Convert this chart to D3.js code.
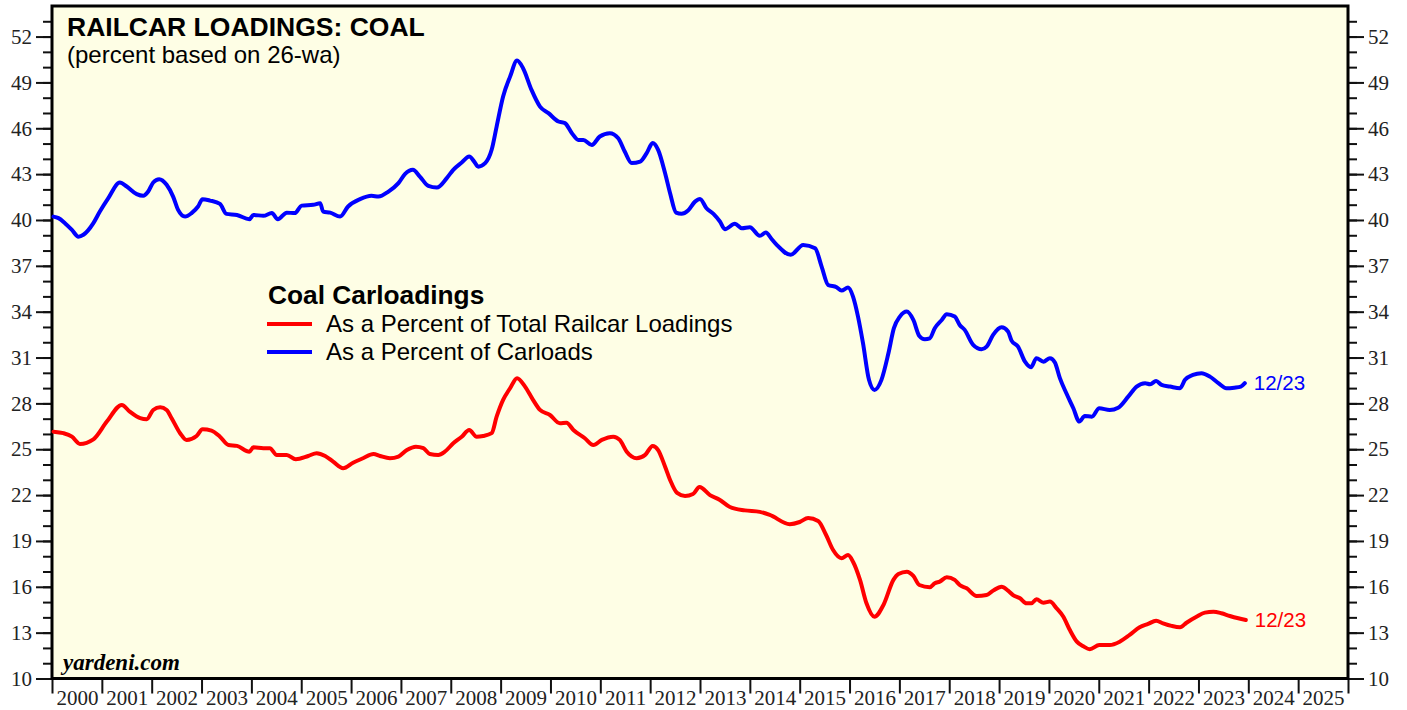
<!DOCTYPE html>
<html>
<head>
<meta charset="utf-8">
<script src="https://cdn.jsdelivr.net/npm/d3@7"></script>
<style>
  html, body { margin: 0; padding: 0; background: #fff; }
  svg { display: block; }
  .tick text { font-family: "Liberation Serif", "Times New Roman", serif; font-size: 21px; fill: #222; }
  .tick line { stroke: #111; stroke-width: 2px; }
</style>
</head>
<body>
<svg id="chart" width="1407" height="710"></svg>
<script>
// coal carloadings as % of all carloads (blue)
const carloadYears = [2000.03, 2000.13, 2000.26, 2000.40, 2000.53, 2000.63, 2000.83, 2000.96, 2001.13, 2001.36,
  2001.50, 2001.70, 2001.83, 2001.93, 2002.03, 2002.15, 2002.30, 2002.43, 2002.53, 2002.67,
  2002.80, 2002.93, 2003.02, 2003.17, 2003.37, 2003.50, 2003.71, 2003.96, 2004.04, 2004.24,
  2004.41, 2004.53, 2004.71, 2004.87, 2005.01, 2005.24, 2005.38, 2005.44, 2005.58, 2005.78,
  2005.94, 2006.18, 2006.41, 2006.55, 2006.75, 2006.95, 2007.08, 2007.24, 2007.38, 2007.55,
  2007.72, 2007.92, 2008.05, 2008.22, 2008.37, 2008.47, 2008.55, 2008.69, 2008.82, 2008.92,
  2009.05, 2009.19, 2009.33, 2009.45, 2009.62, 2009.79, 2009.96, 2010.16, 2010.29, 2010.43,
  2010.56, 2010.66, 2010.83, 2010.99, 2011.19, 2011.36, 2011.49, 2011.63, 2011.80, 2011.93,
  2012.05, 2012.16, 2012.30, 2012.40, 2012.52, 2012.63, 2012.76, 2012.90, 2013.00, 2013.13,
  2013.27, 2013.40, 2013.50, 2013.70, 2013.84, 2014.00, 2014.20, 2014.32, 2014.44, 2014.54,
  2014.82, 2015.07, 2015.31, 2015.44, 2015.57, 2015.74, 2015.84, 2015.97, 2016.07, 2016.17,
  2016.27, 2016.39, 2016.50, 2016.64, 2016.78, 2016.89, 2017.01, 2017.15, 2017.28, 2017.40,
  2017.51, 2017.61, 2017.71, 2017.85, 2017.95, 2018.11, 2018.21, 2018.31, 2018.48, 2018.65,
  2018.75, 2018.88, 2019.05, 2019.18, 2019.25, 2019.38, 2019.52, 2019.64, 2019.75, 2019.89,
  2020.02, 2020.12, 2020.22, 2020.35, 2020.49, 2020.61, 2020.72, 2020.86, 2021.01, 2021.22,
  2021.39, 2021.59, 2021.76, 2021.93, 2022.03, 2022.15, 2022.26, 2022.43, 2022.63, 2022.73,
  2022.89, 2023.06, 2023.23, 2023.40, 2023.56, 2023.72, 2023.85, 2023.93];
const carloadPct = [40.22, 40.12, 39.79, 39.35, 38.91, 39.03, 39.79, 40.55, 41.43, 42.45,
  42.19, 41.69, 41.58, 41.86, 42.45, 42.67, 42.30, 41.53, 40.66, 40.22,
  40.45, 40.88, 41.36, 41.27, 41.05, 40.40, 40.33, 40.05, 40.33, 40.27,
  40.45, 40.05, 40.48, 40.45, 40.94, 40.99, 41.10, 40.55, 40.48, 40.22,
  40.88, 41.36, 41.58, 41.53, 41.86, 42.41, 43.00, 43.28, 42.84, 42.23,
  42.12, 42.74, 43.28, 43.76, 44.15, 43.82, 43.49, 43.72, 44.59, 46.11,
  48.08, 49.38, 50.43, 49.93, 48.51, 47.42, 46.99, 46.44, 46.34, 45.68,
  45.24, 45.24, 44.91, 45.46, 45.68, 45.35, 44.48, 43.72, 43.82, 44.37,
  45.03, 44.59, 43.06, 41.75, 40.48, 40.40, 40.62, 41.20, 41.38, 40.77,
  40.40, 39.90, 39.40, 39.75, 39.46, 39.53, 38.96, 39.18, 38.74, 38.37,
  37.72, 38.37, 38.15, 36.95, 35.75, 35.60, 35.38, 35.58, 34.99, 33.68,
  31.94, 29.54, 28.88, 29.54, 31.28, 32.92, 33.68, 34.01, 33.46, 32.41,
  32.20, 32.26, 32.92, 33.46, 33.84, 33.68, 33.13, 32.81, 31.83, 31.54,
  31.71, 32.48, 32.98, 32.70, 32.11, 31.71, 30.73, 30.37, 30.96, 30.73,
  30.96, 30.67, 29.65, 28.66, 27.68, 26.81, 27.18, 27.13, 27.68, 27.57,
  27.72, 28.44, 29.10, 29.32, 29.25, 29.47, 29.21, 29.10, 28.99, 29.54,
  29.86, 29.97, 29.75, 29.32, 28.99, 29.03, 29.10, 29.32];

// coal carloadings as % of total railcar loadings (red)
const totalYears = [2000.03, 2000.23, 2000.40, 2000.56, 2000.83, 2001.10, 2001.40, 2001.56, 2001.77, 2001.90,
  2002.03, 2002.17, 2002.30, 2002.40, 2002.57, 2002.70, 2002.90, 2003.02, 2003.20, 2003.37,
  2003.54, 2003.71, 2003.96, 2004.04, 2004.24, 2004.37, 2004.51, 2004.71, 2004.89, 2005.14,
  2005.31, 2005.48, 2005.64, 2005.84, 2006.04, 2006.24, 2006.45, 2006.58, 2006.78, 2006.95,
  2007.12, 2007.30, 2007.45, 2007.58, 2007.75, 2007.88, 2008.05, 2008.22, 2008.37, 2008.52,
  2008.65, 2008.82, 2008.92, 2009.05, 2009.19, 2009.33, 2009.49, 2009.65, 2009.79, 2009.99,
  2010.19, 2010.32, 2010.46, 2010.69, 2010.86, 2011.03, 2011.26, 2011.39, 2011.53, 2011.73,
  2011.90, 2012.05, 2012.16, 2012.30, 2012.40, 2012.54, 2012.70, 2012.86, 2012.99, 2013.20,
  2013.40, 2013.60, 2013.90, 2014.20, 2014.40, 2014.80, 2015.00, 2015.17, 2015.37, 2015.53,
  2015.67, 2015.84, 2015.97, 2016.07, 2016.21, 2016.34, 2016.50, 2016.68, 2016.88, 2016.98,
  2017.15, 2017.28, 2017.40, 2017.61, 2017.71, 2017.81, 2017.95, 2018.11, 2018.21, 2018.35,
  2018.55, 2018.75, 2018.88, 2019.05, 2019.18, 2019.28, 2019.42, 2019.55, 2019.65, 2019.75,
  2019.89, 2020.02, 2020.15, 2020.29, 2020.42, 2020.56, 2020.69, 2020.82, 2021.01, 2021.22,
  2021.42, 2021.62, 2021.82, 2021.99, 2022.15, 2022.29, 2022.46, 2022.63, 2022.76, 2022.96,
  2023.13, 2023.30, 2023.46, 2023.63, 2023.80, 2023.95];
const totalPct = [26.15, 26.05, 25.82, 25.35, 25.65, 26.81, 27.90, 27.46, 27.03, 26.96,
  27.57, 27.75, 27.57, 27.03, 26.05, 25.61, 25.87, 26.31, 26.22, 25.82,
  25.28, 25.22, 24.84, 25.13, 25.07, 25.07, 24.63, 24.63, 24.35, 24.56,
  24.74, 24.56, 24.19, 23.76, 24.12, 24.41, 24.69, 24.56, 24.41, 24.52,
  24.95, 25.17, 25.07, 24.69, 24.63, 24.84, 25.39, 25.82, 26.26, 25.82,
  25.87, 26.05, 27.13, 28.23, 28.99, 29.65, 29.10, 28.23, 27.57, 27.24,
  26.70, 26.74, 26.26, 25.72, 25.28, 25.61, 25.82, 25.61, 24.84, 24.41,
  24.63, 25.22, 24.95, 23.86, 22.99, 22.14, 21.94, 22.07, 22.53, 22.00,
  21.68, 21.22, 21.00, 20.90, 20.70, 20.10, 20.24, 20.50, 20.31, 19.39,
  18.41, 17.87, 18.08, 17.64, 16.45, 14.92, 14.04, 14.81, 16.45, 16.84,
  16.99, 16.71, 16.12, 15.97, 16.23, 16.34, 16.62, 16.45, 16.12, 15.90,
  15.40, 15.46, 15.75, 16.01, 15.75, 15.46, 15.25, 14.92, 14.92, 15.18,
  14.96, 15.03, 14.61, 14.04, 13.17, 12.41, 12.11, 11.91, 12.19, 12.19,
  12.41, 12.85, 13.35, 13.57, 13.78, 13.61, 13.44, 13.35, 13.65, 14.04,
  14.31, 14.37, 14.27, 14.09, 13.94, 13.83];

const yearLabels = d3.range(2000, 2026);
const yMajorTicks = d3.range(10, 53, 3);
const yMinorTicks = d3.range(10, 54, 1);
const endLabel = "12/23";

const W = 1407, H = 710;
const plot = { left: 52, right: 1348, top: 6, bottom: 678.5 };

const svg = d3.select("#chart");

const x = d3.scaleLinear().domain([2000, 2026]).range([plot.left, plot.right]);
const y = d3.scaleLinear().domain([10, 54]).range([plot.bottom, plot.top]);

// background of plot
svg.append("rect")
  .attr("x", plot.left).attr("y", plot.top)
  .attr("width", plot.right - plot.left).attr("height", plot.bottom - plot.top)
  .attr("fill", "#fefee5");

// left axis - minor then major ticks
svg.append("g")
  .attr("transform", `translate(${plot.left},0)`)
  .call(d3.axisLeft(y).tickValues(yMinorTicks).tickSize(9).tickFormat(""))
  .call(g => g.select(".domain").remove());
svg.append("g")
  .attr("transform", `translate(${plot.left},0)`)
  .call(d3.axisLeft(y).tickValues(yMajorTicks).tickSize(16).tickPadding(4))
  .call(g => g.select(".domain").remove());

// right axis
svg.append("g")
  .attr("transform", `translate(${plot.right},0)`)
  .call(d3.axisRight(y).tickValues(yMinorTicks).tickSize(9).tickFormat(""))
  .call(g => g.select(".domain").remove());
svg.append("g")
  .attr("transform", `translate(${plot.right},0)`)
  .call(d3.axisRight(y).tickValues(yMajorTicks).tickSize(16).tickPadding(4))
  .call(g => g.select(".domain").remove());

// x axis: year ticks, labels centred in between
svg.append("g")
  .attr("transform", `translate(0,${plot.bottom})`)
  .call(d3.axisBottom(x).tickValues(d3.range(2000, 2027)).tickSize(15).tickFormat(""))
  .call(g => g.select(".domain").remove());
svg.append("g")
  .attr("transform", `translate(0,${plot.bottom})`)
  .call(d3.axisBottom(x).tickValues(yearLabels.map(d => d + 0.5)).tickSize(0).tickPadding(12)
    .tickFormat(d => String(Math.floor(d))))
  .call(g => g.select(".domain").remove());

// frame
svg.append("rect")
  .attr("x", plot.left).attr("y", plot.top)
  .attr("width", plot.right - plot.left).attr("height", plot.bottom - plot.top)
  .attr("fill", "none").attr("stroke", "#000").attr("stroke-width", 3);

// lines
const line = d3.line().x(d => x(d[0])).y(d => y(d[1])).curve(d3.curveMonotoneX);
const series = [
  { years: carloadYears, values: carloadPct, color: "#0000ff" },
  { years: totalYears, values: totalPct, color: "#ff0000" }
];
series.forEach(s => {
  const pts = s.years.map((yr, i) => [yr, s.values[i]]);
  svg.append("path")
    .datum(pts)
    .attr("d", line)
    .attr("fill", "none")
    .attr("stroke", s.color)
    .attr("stroke-width", 4)
    .attr("stroke-linejoin", "round")
    .attr("stroke-linecap", "round");
  const last = pts[pts.length - 1];
  svg.append("text")
    .attr("x", x(last[0]) + 9)
    .attr("y", y(last[1]) + 7)
    .attr("fill", s.color)
    .style("font-family", "Liberation Sans, Arial, sans-serif")
    .style("font-size", "20.5px")
    .text(endLabel);
});

// titles
svg.append("text")
  .attr("x", 67).attr("y", 36)
  .style("font-family", "Liberation Sans, Arial, sans-serif")
  .style("font-size", "26.5px").style("font-weight", "bold")
  .text("RAILCAR LOADINGS: COAL");
svg.append("text")
  .attr("x", 67).attr("y", 63)
  .style("font-family", "Liberation Sans, Arial, sans-serif")
  .style("font-size", "24px")
  .text("(percent based on 26-wa)");

// legend
const legend = svg.append("g").style("font-family", "Liberation Sans, Arial, sans-serif");
legend.append("text")
  .attr("x", 268).attr("y", 304)
  .style("font-size", "26.3px").style("font-weight", "bold")
  .text("Coal Carloadings");
const legendItems = [
  { label: "As a Percent of Total Railcar Loadings", color: "#ff0000" },
  { label: "As a Percent of Carloads", color: "#0000ff" }
];
legendItems.forEach((d, i) => {
  const ly = 324 + i * 28;
  legend.append("line")
    .attr("x1", 267).attr("x2", 312).attr("y1", ly).attr("y2", ly)
    .attr("stroke", d.color).attr("stroke-width", 4);
  legend.append("text")
    .attr("x", 326).attr("y", ly + 8)
    .style("font-size", "24px")
    .text(d.label);
});

svg.append("text")
  .attr("x", 63).attr("y", 670)
  .style("font-family", "Liberation Serif, Times New Roman, serif")
  .style("font-size", "23px").style("font-weight", "bold").style("font-style", "italic")
  .text("yardeni.com");
</script>
</body>
</html>
